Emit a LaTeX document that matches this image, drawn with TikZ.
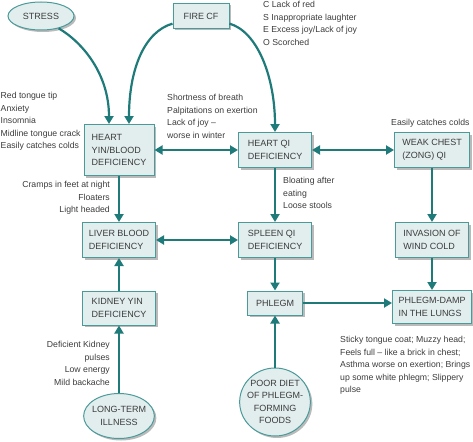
\documentclass[tikz,border=0pt]{standalone}
\usepackage{fontspec}
\setmainfont{Liberation Sans}
\usetikzlibrary{arrows.meta,shapes.geometric,shadows}
\definecolor{tcmFill}{HTML}{E2EDED}
\definecolor{tcmEdge}{HTML}{4A9A9A}
\definecolor{tcmTeal}{HTML}{1F7A7A}
\definecolor{tcmInk}{HTML}{3C3C3C}

\begin{document}
\begin{tikzpicture}[x=1pt,y=-1pt]
\tikzset{
    tcmBox/.style={rectangle,draw=tcmEdge,fill=tcmFill,line width=1pt,minimum width=73pt,minimum height=35pt,inner xsep=6pt,align=left,text=tcmInk,font=\fontsize{9}{12.5}\selectfont,drop shadow={shadow xshift=2pt,shadow yshift=-2pt,fill=black!45,opacity=0.6}},
    tcmOval/.style={ellipse,draw=tcmEdge,fill=tcmFill,line width=1pt,inner sep=-2pt,align=center,text=tcmInk,font=\fontsize{9}{12.5}\selectfont,drop shadow={shadow xshift=2pt,shadow yshift=-2pt,fill=black!45,opacity=0.6}},
    tcmNote/.style={inner sep=0pt,align=left,text=tcmInk,font=\fontsize{8.7}{12.5}\selectfont},
    tcmArrow/.style={draw=tcmTeal,line width=2.2pt,-{Triangle[width=9pt,length=8pt]}},
    tcmBoth/.style={draw=tcmTeal,line width=2.2pt,{Triangle[width=9pt,length=8pt]}-{Triangle[width=9pt,length=8pt]}},
}
\useasboundingbox (0,0) rectangle (473,441);

\node[tcmOval,minimum width=66pt,minimum height=28pt] (stress) at (41,16) {STRESS};
\node[tcmBox,align=center,minimum width=56pt,minimum height=25pt] (firecf) at (201,16) {FIRE CF};

\node[tcmBox,minimum width=70pt,minimum height=51pt] (yinblood) at (119,150) {HEART\\YIN/BLOOD\\DEFICIENCY};
\node[tcmBox] (heartqi) at (275,150) {HEART QI\\DEFICIENCY};
\node[tcmBox,minimum width=75pt] (weakchest) at (432,150) {WEAK CHEST\\(ZONG) QI};

\node[tcmBox] (liver) at (119,240) {LIVER BLOOD\\DEFICIENCY};
\node[tcmBox] (spleen) at (275,240) {SPLEEN QI\\DEFICIENCY};
\node[tcmBox] (invasion) at (432,240) {INVASION OF\\WIND COLD};

\node[tcmBox,minimum height=34pt] (kidney) at (119,308) {KIDNEY YIN\\DEFICIENCY};
\node[tcmBox,align=center,minimum width=55pt,minimum height=24pt] (phlegm) at (275,303) {PHLEGM};
\node[tcmBox,minimum width=75pt,minimum height=33pt] (damp) at (432,307) {PHLEGM-DAMP\\IN THE LUNGS};

\node[tcmOval,minimum width=70pt,minimum height=45pt] (illness) at (119,416) {LONG-TERM\\ILLNESS};
\node[tcmOval,inner sep=-3pt,minimum width=68pt,minimum height=68pt] (diet) at (275,402) {POOR DIET\\OF PHLEGM-\\FORMING\\FOODS};

\node[tcmNote,anchor=north west] (notefire) at (263,1) {C Lack of red\\S Inappropriate laughter\\E Excess joy/Lack of joy\\O Scorched};
\node[tcmNote,anchor=north west] (noteyin) at (0.5,92) {Red tongue tip\\Anxiety\\Insomnia\\Midline tongue crack\\Easily catches colds};
\node[tcmNote,anchor=north west] (noteqi) at (167,94) {Shortness of breath\\Palpitations on exertion\\Lack of joy --\\worse in winter};
\node[tcmNote,anchor=north west] (notechest) at (391,119) {Easily catches colds};
\node[tcmNote,align=right,anchor=north east] (noteliver) at (110,181) {Cramps in feet at night\\Floaters\\Light headed};
\node[tcmNote,anchor=north west] (notespleen) at (283,177) {Bloating after\\eating\\Loose stools};
\node[tcmNote,align=right,anchor=north east] (notekidney) at (110,341) {Deficient Kidney\\pulses\\Low energy\\Mild backache};
\node[tcmNote,anchor=north west] (notedamp) at (340,336) {Sticky tongue coat; Muzzy head;\\Feels full -- like a brick in chest;\\Asthma worse on exertion; Brings\\up some white phlegm; Slippery\\pulse};

\draw[tcmArrow] (stress.-35) .. controls +(24,14) and +(0,-50) .. ([xshift=-10pt]yinblood.north);
\draw[tcmArrow] (firecf.195) .. controls +(-28,8) and +(0,-55) .. ([xshift=10pt]yinblood.north);
\draw[tcmArrow] (firecf.-15) .. controls +(28,8) and +(0,-55) .. (heartqi.north);

\draw[tcmBoth] (yinblood.east) -- (heartqi.west);
\draw[tcmBoth] (heartqi.east) -- (weakchest.west);
\draw[tcmBoth] (liver.east) -- (spleen.west);

\draw[tcmArrow] (yinblood.south) -- (liver.north);
\draw[tcmArrow] (kidney.north) -- (liver.south);
\draw[tcmArrow] (illness.north) -- (kidney.south);
\draw[tcmArrow] (heartqi.south) -- (spleen.north);
\draw[tcmArrow] (spleen.south) -- (phlegm.north);
\draw[tcmArrow] (diet.north) -- (phlegm.south);
\draw[tcmArrow] (weakchest.south) -- (invasion.north);
\draw[tcmArrow] (invasion.south) -- (damp.north);
\draw[tcmArrow] (phlegm.east) -- (phlegm.east -| damp.west);
\end{tikzpicture}
\end{document}
